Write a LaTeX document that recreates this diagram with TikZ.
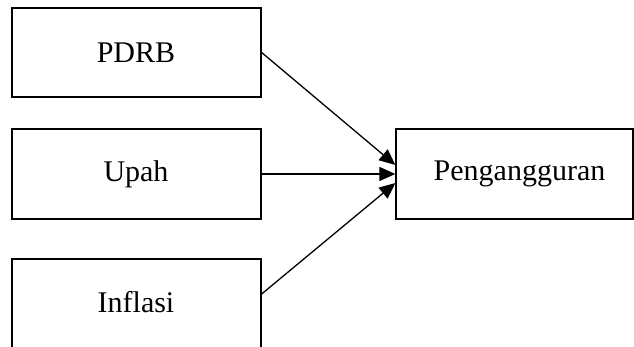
\documentclass[tikz,border=0pt]{standalone}
\usepackage{fontspec}
\setmainfont{Liberation Serif}
\usetikzlibrary{arrows.meta}
\begin{document}
\begin{tikzpicture}[x=1pt,y=-1pt,
  box/.style={draw, line width=1.3pt, rectangle, inner sep=0pt},
  lbl/.style={font=\fontsize{30}{34}\selectfont, inner sep=0pt},
  conn/.style={line width=1.3pt, -{Triangle[length=16pt,width=14pt]}}]
\useasboundingbox (0,0) rectangle (634,347);
% boxes
\node[box, minimum width=249pt, minimum height=89pt] (pdrb) at (136.5,52.5) {};
\node[box, minimum width=249pt, minimum height=90pt] (upah) at (136.5,174) {};
\node[box, minimum width=249pt, minimum height=96pt] (infl) at (136.5,307) {};
\node[box, minimum width=237pt, minimum height=90pt] (peng) at (514.5,174) {};
% labels
\node[lbl] (pdrbt) at (136,53) {PDRB};
\node[lbl] (upaht) at (136,174) {Upah};
\node[lbl] (inflt) at (136,302) {Inflasi};
\node[lbl] (pengt) at (519.5,174) {Pengangguran};
% connectors
\coordinate (t1) at ([yshift=9pt]peng.west);
\coordinate (t3) at ([yshift=-9pt]peng.west);
\coordinate (s3) at ([yshift=13pt]infl.east);
\draw[conn] (pdrb.east) -- (t1);
\draw[conn] (upah.east) -- (peng.west);
\draw[conn] (s3) -- (t3);
\end{tikzpicture}
\end{document}
